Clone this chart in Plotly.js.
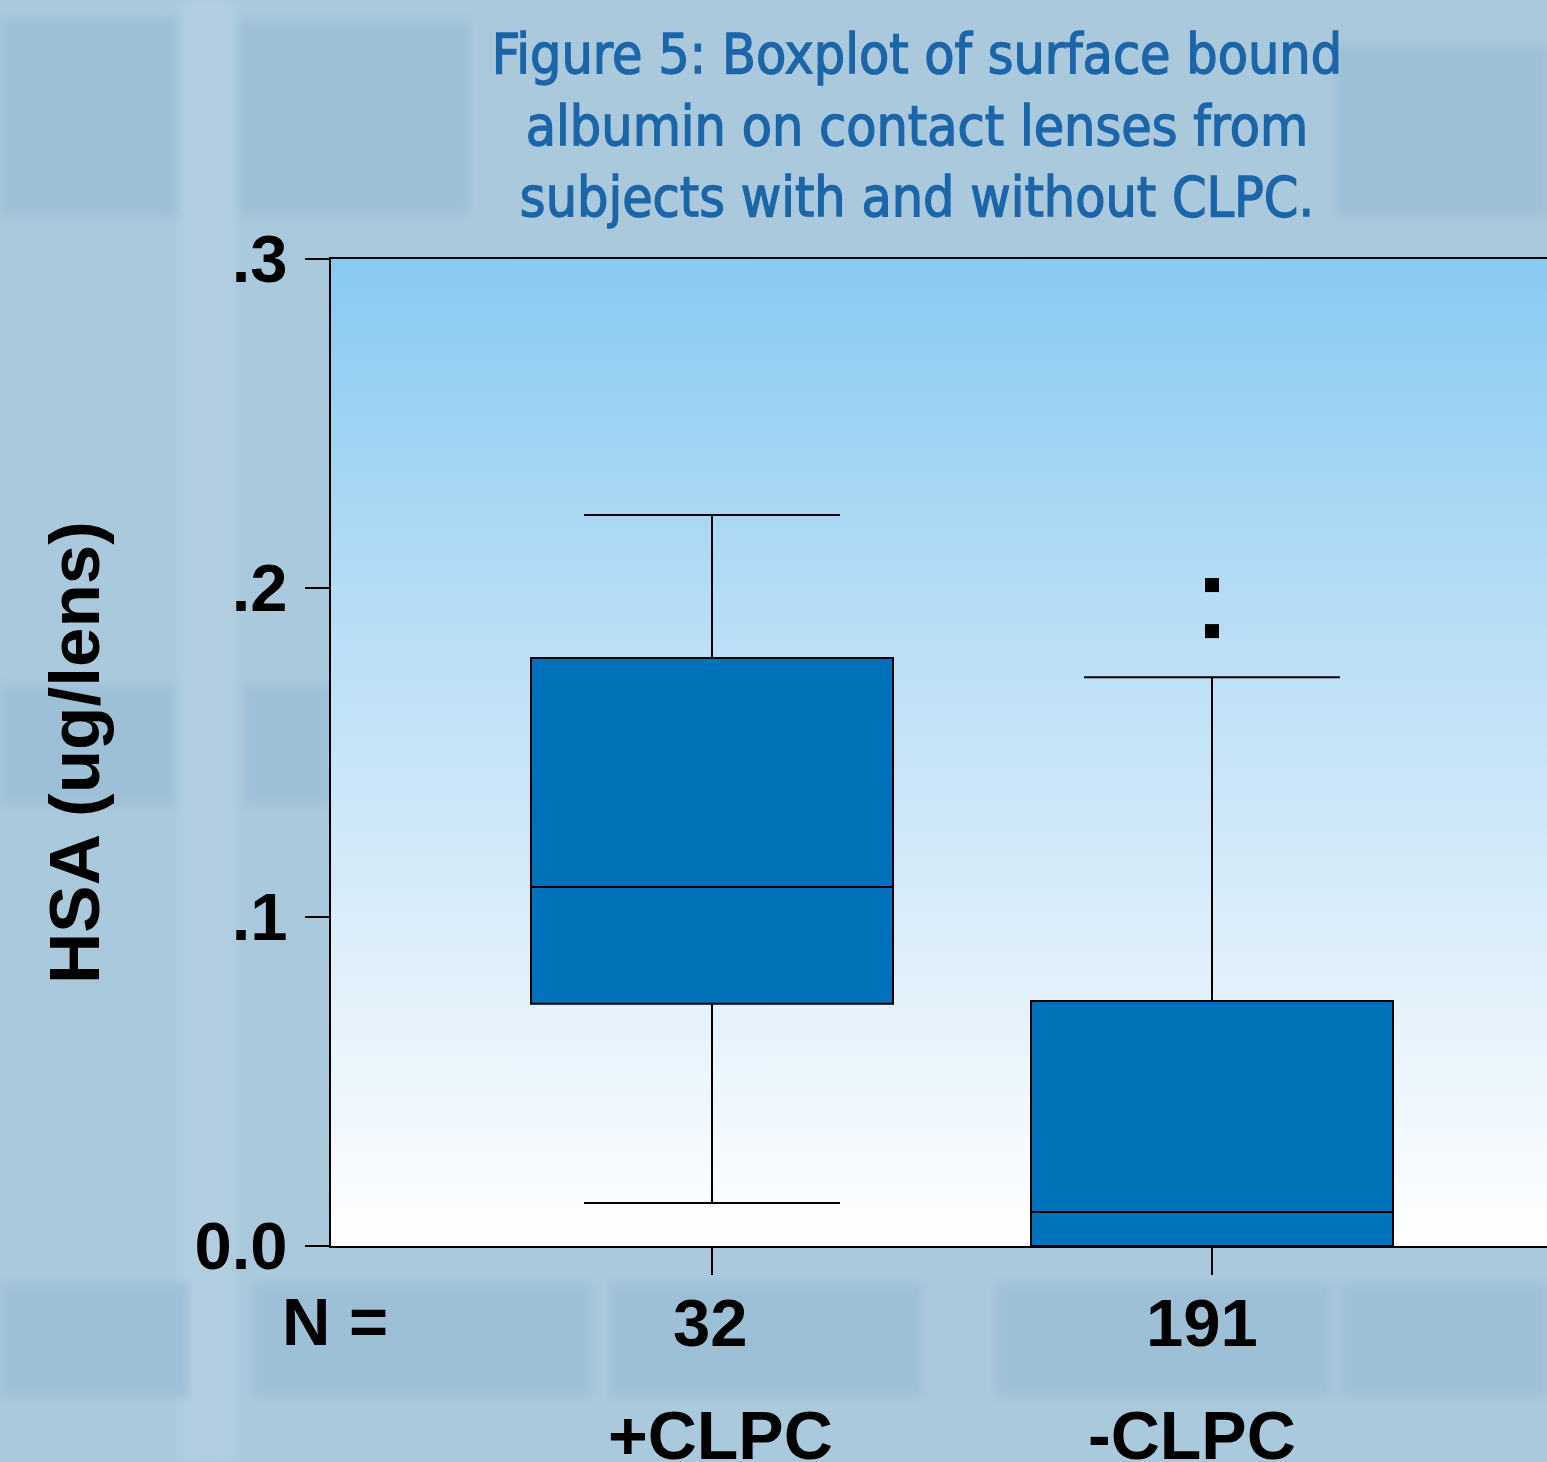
<!DOCTYPE html>
<html>
<head>
<meta charset="utf-8">
<script src="https://cdn.plot.ly/plotly-3.0.1.min.js"></script>
<style>
  html, body { margin: 0; padding: 0; }
  #wrap { position: relative; width: 1547px; height: 1462px; overflow: hidden; background: #abc9dd; }
  .blk { position: absolute; background: #9ec0d6; filter: blur(4px); }
  .lt { position: absolute; background: #b3cee1; filter: blur(6px); }
  #grad { position: absolute; left: 331px; top: 259px; width: 1216px; height: 987px;
          background: linear-gradient(to bottom, #89caf1 0%, #b9def6 38%, #e3f1fb 75%, #ffffff 100%); }
  #chart { position: absolute; left: 0; top: 0; width: 1547px; height: 1462px; }
  #chart .gtitle { stroke: #1b66a9; stroke-width: 1.3px; }
</style>
</head>
<body>
<div id="wrap">
  <div class="blk" style="left:0;top:18px;width:185px;height:198px"></div>
  <div class="blk" style="left:238px;top:20px;width:232px;height:195px"></div>
  <div class="blk" style="left:1335px;top:45px;width:212px;height:172px"></div>
  <div class="blk" style="left:0;top:685px;width:175px;height:120px"></div>
  <div class="blk" style="left:243px;top:685px;width:90px;height:120px"></div>
  <div class="lt" style="left:180px;top:0;width:55px;height:1462px"></div>
  <div class="blk" style="left:0;top:1283px;width:188px;height:114px"></div>
  <div class="blk" style="left:252px;top:1283px;width:340px;height:114px"></div>
  <div class="blk" style="left:610px;top:1283px;width:312px;height:114px"></div>
  <div class="blk" style="left:995px;top:1283px;width:335px;height:114px"></div>
  <div class="blk" style="left:1340px;top:1283px;width:207px;height:114px"></div>
  <div id="grad"></div>
  <div id="chart"></div>
</div>
<script>
// ---- data ----
const groups = ["+CLPC", "-CLPC"];
const nCounts = ["32", "191"];
const lowerFence = [0.0131, 0.0];
const q1 = [0.0736, 0.0];
const median = [0.1091, 0.0103];
const q3 = [0.1787, 0.0745];
const upperFence = [0.2222, 0.1729];
const outlierGroup = [1, 1];
const outlierValues = [0.2009, 0.1869];
const yTickVals = [0, 0.1, 0.2, 0.3];
const yTickText = ["0.0", ".1", ".2", ".3"];

const groupPos = groups.map((g, i) => i);

const traces = groups.map((g, i) => ({
  type: "box",
  name: g,
  x: [groupPos[i]],
  q1: [q1[i]],
  median: [median[i]],
  q3: [q3[i]],
  lowerfence: [lowerFence[i]],
  upperfence: [upperFence[i]],
  width: 0.724,
  whiskerwidth: 0.707,
  fillcolor: "#0072bb",
  line: { color: "#000000", width: 2 },
  showlegend: false,
  hoverinfo: "y"
}));

traces.push({
  type: "scatter",
  mode: "markers",
  x: outlierGroup,
  y: outlierValues,
  marker: { symbol: "square", size: 14, color: "#000000" },
  showlegend: false,
  cliponaxis: false
});

const boldFont = "Liberation Sans, Arial, sans-serif";
const labelFont = { family: boldFont, size: 67, color: "#000", weight: "bold" };

const annotations = [
  { text: "N =", xref: "paper", yref: "paper", x: (280 - 331) / 1216, y: -75 / 987, xanchor: "left", yanchor: "middle",
    showarrow: false, font: labelFont }
];
nCounts.forEach((n, i) => {
  annotations.push({ text: n, xref: "x", yref: "paper", x: groupPos[i], xshift: i === 1 ? -10 : -2,
    y: -76 / 987, xanchor: "center", yanchor: "middle", showarrow: false, font: labelFont });
});
groups.forEach((g, i) => {
  annotations.push({ text: g, xref: "x", yref: "paper", x: groupPos[i], xshift: i === 0 ? 8 : -20,
    y: -189 / 987, xanchor: "center", yanchor: "middle", showarrow: false, font: { family: boldFont, size: 68, color: "#000", weight: "bold" } });
});

const layout = {
  width: 1547,
  height: 1462,
  margin: { l: 331, r: 0, t: 259, b: 216 },
  paper_bgcolor: "rgba(0,0,0,0)",
  plot_bgcolor: "rgba(0,0,0,0)",
  title: {
    text: "Figure 5: Boxplot of surface bound<br>albumin on contact lenses from<br>subjects with and without CLPC.",
    font: { family: "DejaVu Sans Condensed, sans-serif", size: 55, color: "#1b66a9", weight: "normal" },
    x: 917 / 1547,
    xanchor: "center",
    xref: "container",
    y: 1 - 73 / 1462,
    yanchor: "top",
    yref: "container"
  },
  xaxis: {
    range: [-0.762, 1.670],
    tickvals: groupPos,
    ticks: "outside",
    ticklen: 27,
    tickwidth: 2,
    tickcolor: "#000",
    showticklabels: false,
    showline: true,
    linecolor: "#000",
    linewidth: 2,
    mirror: true,
    showgrid: false,
    zeroline: false
  },
  yaxis: {
    range: [0, 0.3],
    tickvals: yTickVals,
    ticktext: yTickText,
    ticks: "outside",
    ticklen: 24,
    tickwidth: 2,
    tickcolor: "#000",
    showline: true,
    linecolor: "#000",
    linewidth: 2,
    showgrid: false,
    zeroline: false,
    tickfont: { family: boldFont, size: 67, color: "#000", weight: "bold" },
    ticklabelstandoff: 4,
    title: {
      text: "HSA (ug/lens)",
      font: { family: boldFont, size: 71, color: "#000", weight: "bold" },
      standoff: 72
    }
  },
  annotations: annotations
};

Plotly.newPlot("chart", traces, layout, { displayModeBar: false, staticPlot: true });
</script>
</body>
</html>
